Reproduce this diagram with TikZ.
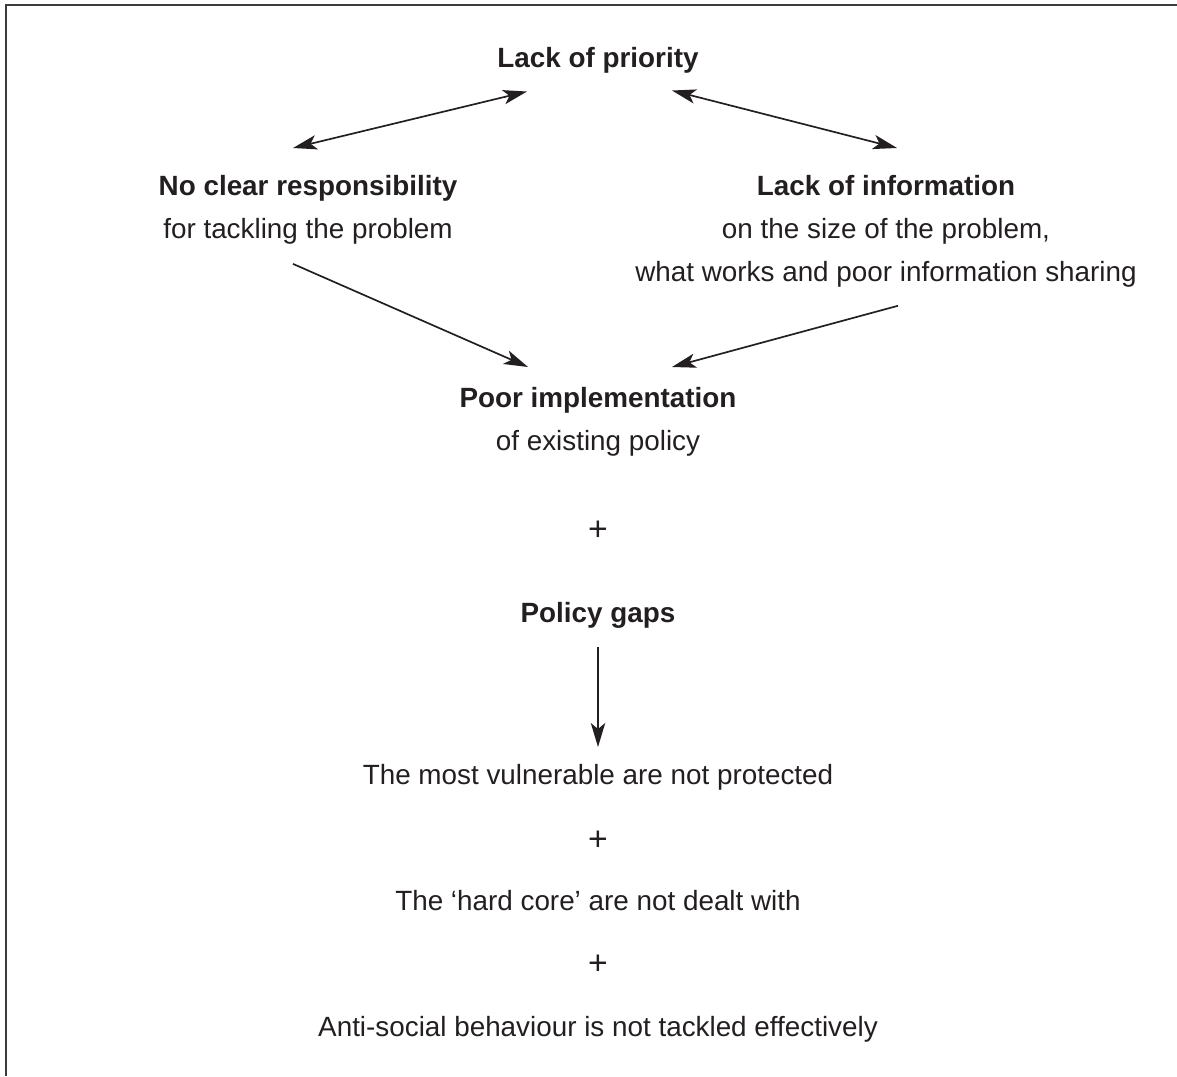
\documentclass[tikz,border=0pt]{standalone}
\usepackage{fontspec}
\setmainfont{Liberation Sans}
\usepackage{xcolor}
\usetikzlibrary{arrows.meta}
\definecolor{inkblack}{HTML}{231F20}
\definecolor{framegrey}{HTML}{3C3C3C}

\begin{document}
\begin{tikzpicture}[
      txt/.style={inner sep=0pt, align=center, text=inkblack,
                  font=\fontsize{19.8}{30.5}\selectfont},
      head/.style={txt, anchor=north},
      plus/.style={inner sep=0pt, text=inkblack, font=\fontsize{24}{28}\selectfont},
      arr/.style={-{Stealth[length=0.6cm, width=0.36cm, inset=0.15cm]},
                  line width=1.2pt, color=inkblack},
      dbl/.style={arr, {Stealth[length=0.6cm, width=0.36cm, inset=0.15cm]}-{Stealth[length=0.6cm, width=0.36cm, inset=0.15cm]}},
      frame/.style={line width=1.6pt, color=framegrey}
    ]
    \useasboundingbox (0,0) rectangle (29.425,-26.9);

    % Frame (top and left only)
    \draw[frame] (0.15,-26.9) -- (0.15,-0.125) -- (29.425,-0.125);

    % Causes
    \node[head] (prio) at (14.95,-1.175)  {\textbf{Lack of priority}};
    \node[head] (resp) at (7.7,-4.3875)   {\textbf{No clear responsibility}\\for tackling the problem};
    \node[head] (info) at (22.15,-4.3875) {\textbf{Lack of information}\\on the size of the problem,\\what works and poor information sharing};

    \draw[dbl] ([xshift=-0.375cm,yshift=0.6875cm]resp.north) -- ([xshift=-1.775cm,yshift=-0.45cm]prio.south);
    \draw[dbl] ([xshift=1.85cm,yshift=-0.425cm]prio.south) -- ([xshift=0.275cm,yshift=0.6875cm]info.north);

    % Implementation and gaps
    \node[head] (impl) at (14.95,-9.6875) {\textbf{Poor implementation}\\of existing policy};
    \node[plus] (plusa) at (14.95,-13.275) {+};
    \node[head] (gaps) at (14.95,-15.0625) {\textbf{Policy gaps}};

    \draw[arr] ([xshift=-0.375cm,yshift=-0.475cm]resp.south) -- ([xshift=-1.75cm,yshift=0.5125cm]impl.north);
    \draw[arr] ([xshift=0.3cm,yshift=-0.45cm]info.south) -- ([xshift=1.85cm,yshift=0.5125cm]impl.north);

    % Outcomes
    \node[head] (vuln) at (14.95,-19.1) {The most vulnerable are not protected};
    \node[plus] (plusb) at (14.95,-21.025) {+};
    \node[head] (core) at (14.95,-22.24) {The `hard core' are not dealt with};
    \node[plus] (plusc) at (14.95,-24.125) {+};
    \node[head] (asb)  at (14.95,-25.39) {Anti-social behaviour is not tackled effectively};

    \draw[arr] ([yshift=-0.45cm]gaps.south) -- ([yshift=0.425cm]vuln.north);

  \end{tikzpicture}
\end{document}
